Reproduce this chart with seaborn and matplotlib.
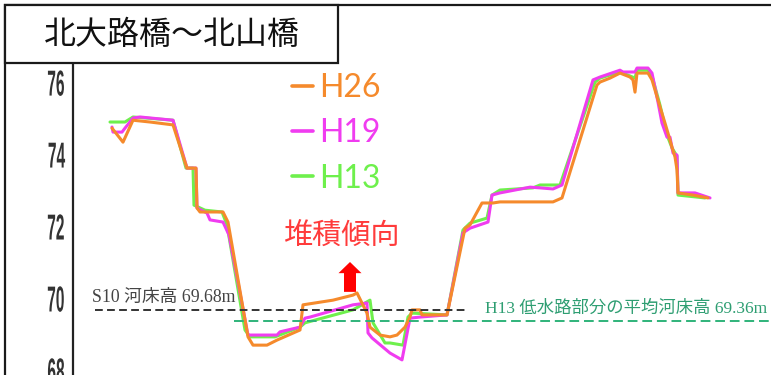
import matplotlib
matplotlib.use("Agg")
import matplotlib.pyplot as plt
import numpy as np
import pandas as pd
import seaborn as sns
from matplotlib.patches import Rectangle, FancyArrow
from matplotlib.lines import Line2D
from matplotlib.patheffects import AbstractPathEffect
from matplotlib.transforms import Affine2D

# 河床縦断 (distance along the channel, bed elevation in m)
dist_h26 = [39, 50, 60, 77, 100, 114, 123, 124, 127, 150, 155, 175, 180, 194, 204, 227, 230,
            260, 280, 284, 294, 297, 307, 317, 324, 332, 337, 339, 347, 349, 374, 392, 397,
            409, 420, 427, 480, 489, 524, 527, 537, 547, 557, 560, 562, 564, 575, 579, 587,
            592, 595, 599, 602, 604, 605, 620, 635]
elev_h26 = [74.72, 74.33, 74.94, 74.89, 74.81, 73.61, 73.61, 72.50, 72.39, 72.39, 72.11, 68.92,
            68.69, 68.69, 68.83, 69.11, 69.81, 69.94, 70.08, 70.14, 69.58, 69.19, 68.97, 68.92,
            68.97, 69.19, 69.47, 69.67, 69.67, 69.53, 69.53, 71.94, 72.03, 72.64, 72.64, 72.67,
            72.67, 72.78, 75.92, 76.00, 76.11, 76.25, 76.14, 76.06, 75.72, 76.25, 76.25, 76.06,
            75.31, 74.86, 74.58, 74.19, 73.92, 73.56, 72.92, 72.86, 72.78]

dist_h19 = [39, 40, 49, 52, 60, 67, 100, 114, 123, 124, 134, 137, 150, 156, 175, 204, 207, 227,
            232, 237, 280, 294, 295, 299, 317, 329, 337, 347, 374, 375, 390, 397, 415, 419, 427,
            457, 467, 480, 489, 520, 527, 547, 550, 562, 564, 575, 579, 585, 589, 594, 597, 600,
            604, 605, 622, 637]
elev_h19 = [74.75, 74.61, 74.61, 74.72, 75.00, 75.03, 74.94, 73.61, 73.61, 72.50, 72.36, 72.17,
            72.11, 71.75, 68.97, 68.97, 69.06, 69.19, 69.44, 69.47, 69.81, 69.86, 69.03, 68.89,
            68.47, 68.28, 69.44, 69.47, 69.53, 69.67, 71.81, 71.94, 72.11, 72.86, 72.92, 73.08,
            73.06, 73.03, 73.14, 76.06, 76.14, 76.33, 76.28, 76.28, 76.39, 76.39, 76.25, 75.44,
            74.86, 74.47, 74.47, 74.03, 73.97, 72.92, 72.92, 72.78]

dist_h13 = [37, 52, 60, 100, 113, 120, 121, 132, 149, 154, 172, 177, 202, 227, 232, 280, 297,
            300, 312, 317, 330, 335, 339, 374, 390, 397, 414, 419, 427, 460, 467, 487, 522, 527,
            547, 557, 562, 564, 575, 579, 587, 594, 599, 604, 605, 622, 632]
elev_h13 = [74.89, 74.89, 75.03, 74.94, 73.61, 73.61, 72.58, 72.44, 72.39, 72.03, 69.11, 68.92,
            68.92, 69.19, 69.31, 69.67, 69.94, 69.31, 68.75, 68.75, 68.69, 69.47, 69.58, 69.53,
            71.89, 72.08, 72.22, 72.86, 73.00, 73.06, 73.14, 73.14, 76.00, 76.11, 76.28, 76.17,
            76.11, 76.33, 76.33, 76.17, 75.36, 74.53, 74.17, 73.94, 72.86, 72.81, 72.78]

series_names = ["H26", "H19", "H13"]
series_colors = {"H26": "#f58a2c", "H19": "#f03cf0", "H13": "#6ef04c"}

yticks = [68, 70, 72, 74, 76]
title_text = "北大路橋～北山橋"
trend_text = "堆積傾向"
s10_level = 69.68
s10_label = f"S10 河床高 {s10_level:.2f}m"
h13_level = 69.36
h13_label = f"H13 低水路部分の平均河床高 {h13_level:.2f}m"

frames = []
for name, d, e in [("H13", dist_h13, elev_h13), ("H19", dist_h19, elev_h19),
                   ("H26", dist_h26, elev_h26)]:
    frames.append(pd.DataFrame({"distance": d, "elevation": e, "survey": name,
                                "order": np.arange(len(d))}))
profile = pd.concat(frames, ignore_index=True)


class Squeeze(AbstractPathEffect):
    """Narrow the glyph outlines horizontally, keeping the right edge fixed."""

    def __init__(self, sx=1.0):
        super().__init__()
        self.sx = sx

    def draw_path(self, renderer, gc, tpath, affine, rgbFace=None):
        x1 = tpath.get_extents().x1
        t = Affine2D().translate(-x1, 0).scale(self.sx, 1.0).translate(x1, 0)
        renderer.draw_path(gc, tpath, t + affine, rgbFace)


sns.set_style("white")
plt.rcParams["font.family"] = ["Noto Sans CJK JP", "DejaVu Sans"]

W, H = 771, 375
fig = plt.figure(figsize=(W / 100, H / 100), dpi=100)
ax = fig.add_axes([73 / W, 0.0, (W - 73) / W, (H - 63) / H])

for name in ["H13", "H19", "H26"]:
    sub = profile[profile["survey"] == name]
    sns.lineplot(data=sub, x="distance", y="elevation", sort=False, estimator=None,
                 color=series_colors[name], linewidth=2.2, ax=ax, legend=False)

ax.set_xlim(0, W - 73)
ax.set_ylim(67.86, 76.53)
ax.set_xlabel("")
ax.set_ylabel("")
ax.set_xticks([])
for side in ["top", "right", "bottom"]:
    ax.spines[side].set_visible(False)
ax.spines["left"].set_color("#222222")
ax.spines["left"].set_linewidth(1.6)

ax.set_yticks(yticks)
ax.set_yticklabels([str(t) for t in yticks])
ax.tick_params(axis="y", direction="in", length=5.5, width=1.6, color="#222222",
               pad=5.5, labelsize=26, labelcolor="#333333")
for lbl in ax.get_yticklabels():
    lbl.set_fontfamily("Liberation Sans")
    lbl.set_fontweight("bold")
    lbl.set_path_effects([Squeeze(0.43)])

# reference bed levels
ax.plot([22, 394], [s10_level, s10_level], color="#333333", lw=1.4,
        linestyle=(0, (4, 2.2)))
ax.text(19, s10_level + 0.11, s10_label, fontsize=12.8, color="#444444",
        family=["Liberation Serif", "Noto Sans CJK JP"], va="bottom", ha="left")
ax.plot([161, W - 73], [h13_level, h13_level], color="#2fb37a", lw=1.4,
        linestyle=(0, (5, 2.5)))
ax.text(412, h13_level + 0.11, h13_label, fontsize=12.5, color="#2e9e72",
        family=["Liberation Serif", "Noto Sans CJK JP"], va="bottom", ha="left")

# deposition note with arrow
ax.text(268, 71.69, trend_text, fontsize=21, color="#ff3b3b", ha="center", va="center")
ax.add_patch(FancyArrow(277, 70.17, 0, 0.83, width=12, head_width=23, head_length=0.31,
                        length_includes_head=True, color="#ff0000", lw=0))

# legend
handles = [Line2D([], [], color=series_colors[n], lw=2.6) for n in series_names]
leg = ax.legend(handles, series_names, loc="upper left",
                bbox_to_anchor=(292 / W, 1 - 73 / H), bbox_transform=fig.transFigure,
                frameon=False, handlelength=0.65, handletextpad=0.2,
                labelspacing=0.48, borderpad=0, borderaxespad=0, labelcolor="linecolor",
                prop={"family": ["Lato", "DejaVu Sans"], "size": 23})

# outer frame and title box
fig.add_artist(Rectangle((5 / W, -0.2), 1.2, 1.2 - 5 / H, transform=fig.transFigure,
                         fill=False, edgecolor="#1a1a1a", lw=1.6, zorder=5))
fig.add_artist(Rectangle((5 / W, 1 - 63 / H), (338 - 5) / W, (63 - 5) / H,
                         transform=fig.transFigure, facecolor="white",
                         edgecolor="#1a1a1a", lw=1.6, zorder=6))
fig.text(172 / W, 1 - 35 / H, title_text, fontsize=23, color="#111111",
         ha="center", va="center", zorder=7)

fig.savefig("out.png", dpi=100)
